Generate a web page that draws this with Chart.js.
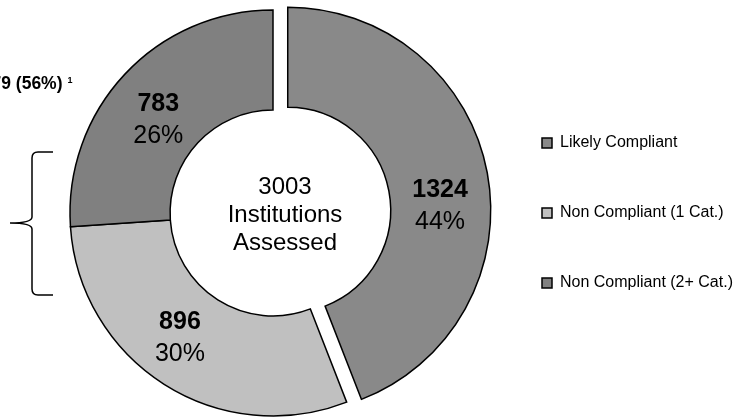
<!DOCTYPE html>
<html>
<head>
<meta charset="utf-8">
<script src="https://cdn.jsdelivr.net/npm/chart.js@4.4.0/dist/chart.umd.min.js"></script>
<style>
  html, body { margin: 0; padding: 0; background: #fff; }
  #wrap { position: relative; width: 734px; height: 419px; }
</style>
</head>
<body>
<div id="wrap"><canvas id="chart"></canvas></div>
<script>
// data
const categories = ["Likely Compliant", "Non Compliant (1 Cat.)", "Non Compliant (2+ Cat.)"];
const counts = [1324, 896, 783];
const groupedSlices = [1, 2]; // the two non compliant slices under the brace
const centerWords = ["Institutions", "Assessed"];
const footnote = "1";

// look
const FONT = "'Liberation Sans', Arial, Helvetica, sans-serif";
const sliceColors = ["#898989", "#c0c0c0", "#808080"];
const explode = [15, 0, 0];
const labelNudge = [[2, 22], [-11, -6], [-3, 9]];

// doughnut that can pull single slices out
class ExplodedDoughnut extends Chart.DoughnutController {
  static id = "explodedDoughnut";
  draw() {
    const ctx = this.chart.ctx;
    this._cachedMeta.data.forEach((arc, i) => {
      const mid = (arc.startAngle + arc.endAngle) / 2;
      ctx.save();
      ctx.translate(Math.cos(mid) * explode[i], Math.sin(mid) * explode[i]);
      arc.draw(ctx);
      ctx.restore();
    });
  }
}
Chart.register(ExplodedDoughnut);

const total = counts.reduce((a, b) => a + b, 0);
const pct = (v) => Math.round((v / total) * 100) + "%";

const annotations = {
  id: "annotations",
  afterDatasetsDraw(chart) {
    const ctx = chart.ctx;
    const arcs = chart.getDatasetMeta(0).data;
    ctx.save();
    ctx.fillStyle = "#000";
    ctx.textAlign = "center";
    ctx.textBaseline = "alphabetic";

    // slice labels
    arcs.forEach((arc, i) => {
      const mid = (arc.startAngle + arc.endAngle) / 2;
      const r = (arc.innerRadius + arc.outerRadius) / 2;
      const x = arc.x + Math.cos(mid) * (r + explode[i]) + labelNudge[i][0];
      const y = arc.y + Math.sin(mid) * (r + explode[i]) + labelNudge[i][1];
      ctx.font = "bold 25px " + FONT;
      ctx.fillText(String(counts[i]), x, y - 7);
      ctx.font = "25px " + FONT;
      ctx.fillText(pct(counts[i]), x, y + 25);
    });

    // centre text
    const cx = arcs[1].x + 12;
    const cy = arcs[1].y;
    ctx.font = "24px " + FONT;
    ctx.fillText(String(total), cx, cy - 19.5);
    ctx.fillText(centerWords[0], cx, cy + 8.7);
    ctx.fillText(centerWords[1], cx, cy + 37);

    // grouped total, runs off the left edge like the original
    const grouped = groupedSlices.reduce((s, i) => s + counts[i], 0);
    ctx.textAlign = "right";
    ctx.font = "bold 17.5px " + FONT;
    ctx.fillText(grouped + " (" + pct(grouped) + ")", 62.5, 89);
    ctx.textAlign = "left";
    ctx.font = "bold 9px " + FONT;
    ctx.fillText(footnote, 67.5, 83);

    // brace
    ctx.strokeStyle = "#000";
    ctx.lineWidth = 1.5;
    ctx.beginPath();
    ctx.moveTo(53, 152);
    ctx.lineTo(38, 152);
    ctx.quadraticCurveTo(32, 152, 32, 158);
    ctx.lineTo(32, 217);
    ctx.quadraticCurveTo(32, 223, 10, 223);
    ctx.quadraticCurveTo(32, 223, 32, 229);
    ctx.lineTo(32, 289);
    ctx.quadraticCurveTo(32, 295, 38, 295);
    ctx.lineTo(53, 295);
    ctx.stroke();
    ctx.restore();
  }
};

new Chart(document.getElementById("chart"), {
  type: "explodedDoughnut",
  data: {
    labels: categories,
    datasets: [{
      data: counts,
      backgroundColor: sliceColors,
      borderColor: "#000",
      borderWidth: 1.5,
      borderJoinStyle: "miter"
    }]
  },
  options: {
    responsive: true,
    maintainAspectRatio: false,
    animation: false,
    events: [],
    cutout: "50.7%",
    radius: 203,
    layout: { padding: { left: 58, top: 7, right: 0, bottom: 0 } },
    plugins: {
      tooltip: { enabled: false },
      legend: {
        position: "right",
        maxWidth: 246,
        labels: {
          boxWidth: 10,
          boxHeight: 10,
          padding: 54,
          color: "#000",
          font: { size: 16, family: FONT }
        }
      }
    }
  },
  plugins: [annotations]
});
</script>
</body>
</html>
